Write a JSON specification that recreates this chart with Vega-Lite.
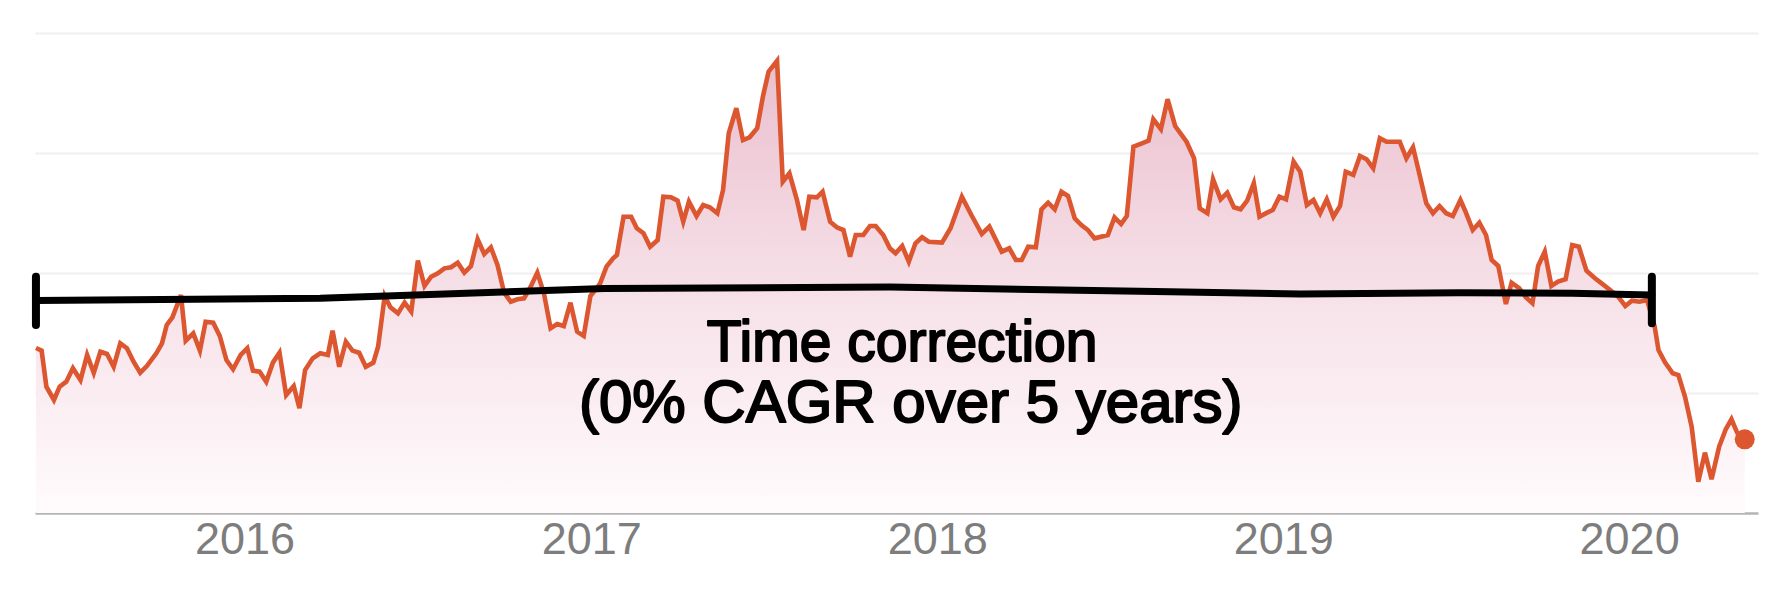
{
  "$schema": "https://vega.github.io/schema/vega-lite/v6.json",
  "width": 1723,
  "height": 480,
  "autosize": {"type": "none"},
  "padding": {"left": 35, "top": 33, "right": 34, "bottom": 95},
  "background": "#ffffff",
  "config": {"view": {"stroke": null}},
  "datasets": {
    "series": [
      {"date": "2015-05-26", "price": 137.5}, {"date": "2015-06-01", "price": 135.3}, {"date": "2015-06-06", "price": 105.3}, {"date": "2015-06-14", "price": 94.2},
      {"date": "2015-06-20", "price": 105.3}, {"date": "2015-06-27", "price": 109.4}, {"date": "2015-07-04", "price": 120.6}, {"date": "2015-07-12", "price": 110.8},
      {"date": "2015-07-19", "price": 131.7}, {"date": "2015-07-26", "price": 116.7}, {"date": "2015-08-02", "price": 134.4}, {"date": "2015-08-09", "price": 132.5},
      {"date": "2015-08-16", "price": 121.9}, {"date": "2015-08-23", "price": 141.4}, {"date": "2015-08-30", "price": 137.3}, {"date": "2015-09-06", "price": 126.1},
      {"date": "2015-09-13", "price": 116.9}, {"date": "2015-09-20", "price": 122.5}, {"date": "2015-09-30", "price": 133.1}, {"date": "2015-10-06", "price": 141.4},
      {"date": "2015-10-11", "price": 156.7}, {"date": "2015-10-17", "price": 163.1}, {"date": "2015-10-26", "price": 181.7}, {"date": "2015-10-31", "price": 143.6},
      {"date": "2015-11-08", "price": 149.8}, {"date": "2015-11-15", "price": 135.3}, {"date": "2015-11-21", "price": 159.4}, {"date": "2015-11-29", "price": 158.6},
      {"date": "2015-12-06", "price": 147.5}, {"date": "2015-12-13", "price": 127.5}, {"date": "2015-12-20", "price": 119.8}, {"date": "2015-12-28", "price": 131.7},
      {"date": "2016-01-04", "price": 137.3}, {"date": "2016-01-10", "price": 118.6}, {"date": "2016-01-17", "price": 117.8}, {"date": "2016-01-24", "price": 109.4},
      {"date": "2016-01-31", "price": 125.3}, {"date": "2016-02-07", "price": 133.6}, {"date": "2016-02-14", "price": 98.3}, {"date": "2016-02-22", "price": 105.8},
      {"date": "2016-02-28", "price": 87.3}, {"date": "2016-03-05", "price": 119.2}, {"date": "2016-03-13", "price": 128.9}, {"date": "2016-03-21", "price": 133.1},
      {"date": "2016-03-29", "price": 131.7}, {"date": "2016-04-03", "price": 151.9}, {"date": "2016-04-10", "price": 121.9}, {"date": "2016-04-17", "price": 142.8},
      {"date": "2016-04-24", "price": 135.3}, {"date": "2016-05-01", "price": 133.6}, {"date": "2016-05-08", "price": 121.9}, {"date": "2016-05-16", "price": 125.3},
      {"date": "2016-05-21", "price": 138.6}, {"date": "2016-05-28", "price": 180.8}, {"date": "2016-06-03", "price": 171.4}, {"date": "2016-06-11", "price": 166.4},
      {"date": "2016-06-18", "price": 175.3}, {"date": "2016-06-25", "price": 167.8}, {"date": "2016-07-02", "price": 210.3}, {"date": "2016-07-09", "price": 189.2},
      {"date": "2016-07-16", "price": 196.9}, {"date": "2016-07-23", "price": 199.8}, {"date": "2016-07-30", "price": 203.9}, {"date": "2016-08-06", "price": 204.8},
      {"date": "2016-08-13", "price": 208.6}, {"date": "2016-08-20", "price": 200.3}, {"date": "2016-08-27", "price": 205.8}, {"date": "2016-09-03", "price": 228.1},
      {"date": "2016-09-10", "price": 215.8}, {"date": "2016-09-17", "price": 221.4}, {"date": "2016-09-24", "price": 206.7}, {"date": "2016-10-01", "price": 183.6},
      {"date": "2016-10-08", "price": 176.1}, {"date": "2016-10-15", "price": 178.1}, {"date": "2016-10-22", "price": 178.9}, {"date": "2016-10-29", "price": 188.6},
      {"date": "2016-11-05", "price": 200.3}, {"date": "2016-11-12", "price": 183.1}, {"date": "2016-11-19", "price": 153.9}, {"date": "2016-11-26", "price": 157.5},
      {"date": "2016-12-03", "price": 155.8}, {"date": "2016-12-10", "price": 175.3}, {"date": "2016-12-17", "price": 151.1}, {"date": "2016-12-24", "price": 147.5},
      {"date": "2016-12-31", "price": 180.8}, {"date": "2017-01-10", "price": 190.8}, {"date": "2017-01-17", "price": 205.3}, {"date": "2017-01-24", "price": 212.3},
      {"date": "2017-01-28", "price": 215.0}, {"date": "2017-02-04", "price": 246.9}, {"date": "2017-02-12", "price": 246.9}, {"date": "2017-02-18", "price": 237.3},
      {"date": "2017-02-25", "price": 233.1}, {"date": "2017-03-04", "price": 221.9}, {"date": "2017-03-12", "price": 227.5}, {"date": "2017-03-18", "price": 263.6},
      {"date": "2017-03-26", "price": 263.1}, {"date": "2017-04-02", "price": 260.3}, {"date": "2017-04-08", "price": 242.8}, {"date": "2017-04-14", "price": 259.4},
      {"date": "2017-04-22", "price": 247.5}, {"date": "2017-04-29", "price": 256.7}, {"date": "2017-05-06", "price": 254.8}, {"date": "2017-05-14", "price": 249.8},
      {"date": "2017-05-20", "price": 269.2}, {"date": "2017-05-26", "price": 316.4}, {"date": "2017-06-03", "price": 337.3}, {"date": "2017-06-10", "price": 310.8},
      {"date": "2017-06-17", "price": 313.1}, {"date": "2017-06-25", "price": 320.6}, {"date": "2017-07-01", "price": 346.9}, {"date": "2017-07-07", "price": 367.8},
      {"date": "2017-07-16", "price": 376.9}, {"date": "2017-07-22", "price": 276.1}, {"date": "2017-07-29", "price": 283.1}, {"date": "2017-08-06", "price": 260.8},
      {"date": "2017-08-13", "price": 235.8}, {"date": "2017-08-19", "price": 263.6}, {"date": "2017-08-27", "price": 263.1}, {"date": "2017-09-02", "price": 267.8},
      {"date": "2017-09-10", "price": 242.8}, {"date": "2017-09-17", "price": 238.1}, {"date": "2017-09-24", "price": 235.8}, {"date": "2017-10-01", "price": 213.6},
      {"date": "2017-10-07", "price": 231.7}, {"date": "2017-10-15", "price": 231.7}, {"date": "2017-10-22", "price": 239.2}, {"date": "2017-10-28", "price": 239.2},
      {"date": "2017-11-05", "price": 231.7}, {"date": "2017-11-12", "price": 220.6}, {"date": "2017-11-18", "price": 216.4}, {"date": "2017-11-25", "price": 222.5},
      {"date": "2017-12-02", "price": 209.4}, {"date": "2017-12-09", "price": 224.8}, {"date": "2017-12-16", "price": 229.8}, {"date": "2017-12-23", "price": 226.1},
      {"date": "2018-01-06", "price": 225.3}, {"date": "2018-01-15", "price": 237.3}, {"date": "2018-01-27", "price": 263.6}, {"date": "2018-02-06", "price": 248.3},
      {"date": "2018-02-17", "price": 232.5}, {"date": "2018-02-25", "price": 238.6}, {"date": "2018-03-10", "price": 217.8}, {"date": "2018-03-18", "price": 220.6},
      {"date": "2018-03-25", "price": 210.8}, {"date": "2018-03-31", "price": 210.8}, {"date": "2018-04-07", "price": 221.9}, {"date": "2018-04-15", "price": 221.4},
      {"date": "2018-04-21", "price": 253.1}, {"date": "2018-04-28", "price": 258.6}, {"date": "2018-05-05", "price": 253.1}, {"date": "2018-05-12", "price": 267.8},
      {"date": "2018-05-19", "price": 264.2}, {"date": "2018-05-26", "price": 245.6}, {"date": "2018-06-02", "price": 240.0}, {"date": "2018-06-09", "price": 235.8},
      {"date": "2018-06-16", "price": 228.9}, {"date": "2018-06-30", "price": 231.7}, {"date": "2018-07-07", "price": 246.4}, {"date": "2018-07-14", "price": 240.8},
      {"date": "2018-07-20", "price": 247.5}, {"date": "2018-07-27", "price": 305.3}, {"date": "2018-08-05", "price": 308.1}, {"date": "2018-08-12", "price": 310.3},
      {"date": "2018-08-17", "price": 328.1}, {"date": "2018-08-25", "price": 319.8}, {"date": "2018-09-01", "price": 344.8}, {"date": "2018-09-09", "price": 322.5},
      {"date": "2018-09-21", "price": 309.4}, {"date": "2018-09-29", "price": 295.6}, {"date": "2018-10-05", "price": 253.9}, {"date": "2018-10-13", "price": 249.8},
      {"date": "2018-10-19", "price": 278.1}, {"date": "2018-10-27", "price": 261.4}, {"date": "2018-11-03", "price": 266.9}, {"date": "2018-11-10", "price": 254.8},
      {"date": "2018-11-17", "price": 253.1}, {"date": "2018-11-24", "price": 260.3}, {"date": "2018-12-01", "price": 274.8}, {"date": "2018-12-07", "price": 246.9},
      {"date": "2018-12-15", "price": 250.3}, {"date": "2018-12-21", "price": 252.5}, {"date": "2018-12-28", "price": 263.6}, {"date": "2019-01-04", "price": 261.4},
      {"date": "2019-01-12", "price": 292.8}, {"date": "2019-01-19", "price": 284.4}, {"date": "2019-01-26", "price": 256.7}, {"date": "2019-02-02", "price": 260.8},
      {"date": "2019-02-09", "price": 249.8}, {"date": "2019-02-16", "price": 261.4}, {"date": "2019-02-23", "price": 246.9}, {"date": "2019-03-02", "price": 255.8},
      {"date": "2019-03-08", "price": 284.4}, {"date": "2019-03-16", "price": 281.7}, {"date": "2019-03-23", "price": 297.5}, {"date": "2019-03-30", "price": 294.8},
      {"date": "2019-04-06", "price": 287.3}, {"date": "2019-04-13", "price": 312.3}, {"date": "2019-04-20", "price": 309.4}, {"date": "2019-05-04", "price": 309.4},
      {"date": "2019-05-11", "price": 295.6}, {"date": "2019-05-18", "price": 304.8}, {"date": "2019-05-25", "price": 281.7}, {"date": "2019-06-01", "price": 258.1},
      {"date": "2019-06-08", "price": 249.8}, {"date": "2019-06-15", "price": 255.8}, {"date": "2019-06-22", "price": 249.8}, {"date": "2019-06-29", "price": 247.5},
      {"date": "2019-07-07", "price": 260.8}, {"date": "2019-07-12", "price": 251.9}, {"date": "2019-07-20", "price": 235.8}, {"date": "2019-07-27", "price": 241.9},
      {"date": "2019-08-03", "price": 231.7}, {"date": "2019-08-09", "price": 210.8}, {"date": "2019-08-16", "price": 205.8}, {"date": "2019-08-24", "price": 174.2},
      {"date": "2019-08-30", "price": 191.9}, {"date": "2019-09-07", "price": 187.3}, {"date": "2019-09-14", "price": 179.8}, {"date": "2019-09-21", "price": 174.8},
      {"date": "2019-09-27", "price": 205.8}, {"date": "2019-10-04", "price": 217.8}, {"date": "2019-10-11", "price": 189.2}, {"date": "2019-10-18", "price": 192.8},
      {"date": "2019-10-26", "price": 194.8}, {"date": "2019-11-02", "price": 223.3}, {"date": "2019-11-09", "price": 221.9}, {"date": "2019-11-17", "price": 201.9},
      {"date": "2019-11-26", "price": 195.6}, {"date": "2019-12-03", "price": 191.4}, {"date": "2019-12-12", "price": 185.8}, {"date": "2019-12-21", "price": 179.8},
      {"date": "2019-12-28", "price": 172.5}, {"date": "2020-01-04", "price": 176.9}, {"date": "2020-01-12", "price": 176.1}, {"date": "2020-01-20", "price": 177.5},
      {"date": "2020-01-28", "price": 155.3}, {"date": "2020-02-01", "price": 135.8}, {"date": "2020-02-08", "price": 125.3}, {"date": "2020-02-16", "price": 116.4},
      {"date": "2020-02-22", "price": 115.0}, {"date": "2020-02-29", "price": 96.9}, {"date": "2020-03-07", "price": 71.9}, {"date": "2020-03-14", "price": 26.1},
      {"date": "2020-03-21", "price": 50.3}, {"date": "2020-03-28", "price": 28.1}, {"date": "2020-04-05", "price": 55.3}, {"date": "2020-04-12", "price": 69.8},
      {"date": "2020-04-18", "price": 78.1}, {"date": "2020-04-24", "price": 66.9}, {"date": "2020-05-02", "price": 61.4}
    ],
    "bracket": [
      {"date": "2015-05-26", "level": 177.1}, {"date": "2016-03-21", "level": 178.9}, {"date": "2017-01-15", "level": 187.1},
      {"date": "2017-11-12", "level": 188.3}, {"date": "2018-09-04", "level": 184.4}, {"date": "2019-01-19", "level": 182.5},
      {"date": "2019-07-07", "level": 183.6}, {"date": "2019-11-02", "level": 183.1}, {"date": "2020-01-25", "level": 181.7}
    ],
    "ends": [
      {"date": "2015-05-26", "lo": 156.7, "hi": 196.9},
      {"date": "2020-01-25", "lo": 158.1, "hi": 196.9}
    ],
    "notes": [
      {"date": "2017-11-25", "level": 126.7, "text": "Time correction", "line": 1},
      {"date": "2017-12-04", "level": 75.8, "text": "(0% CAGR over 5 years)", "line": 2}
    ]
  },
  "layer": [
    {
      "data": {"name": "series"},
      "mark": {
        "type": "area",
        "color": {
          "gradient": "linear", "x1": 0, "y1": 0, "x2": 0, "y2": 1,
          "stops": [
            {"offset": 0, "color": "#eabfce"},
            {"offset": 0.55, "color": "#f7e3ea"},
            {"offset": 1, "color": "#fffbfc"}
          ]
        }
      },
      "encoding": {
        "x": {
          "field": "date", "type": "temporal",
          "scale": {"type": "utc", "domain": [{"year": 2015, "month": 5, "date": 25, "utc": true}, {"year": 2020, "month": 5, "date": 16, "utc": true}]},
          "axis": {
            "values": [
              {"year": 2016, "month": 1, "date": 1, "utc": true},
              {"year": 2017, "month": 1, "date": 1, "utc": true},
              {"year": 2018, "month": 1, "date": 1, "utc": true},
              {"year": 2019, "month": 1, "date": 1, "utc": true},
              {"year": 2020, "month": 1, "date": 1, "utc": true}
            ],
            "format": "%Y", "formatType": "utc",
            "title": null, "grid": false, "ticks": false, "tickSize": 0,
            "domain": true, "domainColor": "#b4b4b4", "domainWidth": 2.5,
            "labelFont": "Liberation Sans", "labelFontSize": 45, "labelColor": "#7d7d7d",
            "labelPadding": 4, "labelFlush": false
          }
        },
        "y": {
          "field": "price", "type": "quantitative",
          "scale": {"domain": [0, 400], "nice": false, "zero": true},
          "axis": {
            "values": [100, 200, 300, 400],
            "title": null, "labels": false, "ticks": false, "domain": false,
            "grid": true, "gridColor": "#f0f0f0", "gridWidth": 2
          }
        }
      }
    },
    {
      "data": {"name": "series"},
      "mark": {"type": "line", "color": "#dc5630", "strokeWidth": 4.6, "strokeJoin": "miter"},
      "encoding": {
        "x": {"field": "date", "type": "temporal"},
        "y": {"field": "price", "type": "quantitative"}
      }
    },
    {
      "data": {"name": "series"},
      "transform": [
        {"joinaggregate": [{"op": "max", "field": "date", "as": "lastDate"}]},
        {"filter": "datum.date >= datum.lastDate"}
      ],
      "mark": {"type": "point", "filled": true, "color": "#dc5630", "size": 400, "opacity": 1},
      "encoding": {
        "x": {"field": "date", "type": "temporal"},
        "y": {"field": "price", "type": "quantitative"}
      }
    },
    {
      "data": {"name": "bracket"},
      "mark": {"type": "line", "color": "#000000", "strokeWidth": 7, "strokeCap": "round", "strokeJoin": "round"},
      "encoding": {
        "x": {"field": "date", "type": "temporal"},
        "y": {"field": "level", "type": "quantitative"}
      }
    },
    {
      "data": {"name": "ends"},
      "mark": {"type": "rule", "color": "#000000", "strokeWidth": 8, "strokeCap": "round"},
      "encoding": {
        "x": {"field": "date", "type": "temporal"},
        "y": {"field": "lo", "type": "quantitative"},
        "y2": {"field": "hi"}
      }
    },
    {
      "data": {"name": "notes"},
      "transform": [{"filter": "datum.line == 1"}],
      "mark": {"type": "text", "font": "Liberation Sans", "fontSize": 57, "color": "#000000", "stroke": "#000000", "strokeWidth": 2, "strokeJoin": "round", "align": "center", "baseline": "alphabetic"},
      "encoding": {
        "x": {"field": "date", "type": "temporal"},
        "y": {"field": "level", "type": "quantitative"},
        "text": {"field": "text", "type": "nominal"}
      }
    },
    {
      "data": {"name": "notes"},
      "transform": [{"filter": "datum.line == 2"}],
      "mark": {"type": "text", "font": "Liberation Sans", "fontSize": 60, "color": "#000000", "stroke": "#000000", "strokeWidth": 2, "strokeJoin": "round", "align": "center", "baseline": "alphabetic"},
      "encoding": {
        "x": {"field": "date", "type": "temporal"},
        "y": {"field": "level", "type": "quantitative"},
        "text": {"field": "text", "type": "nominal"}
      }
    }
  ]
}
